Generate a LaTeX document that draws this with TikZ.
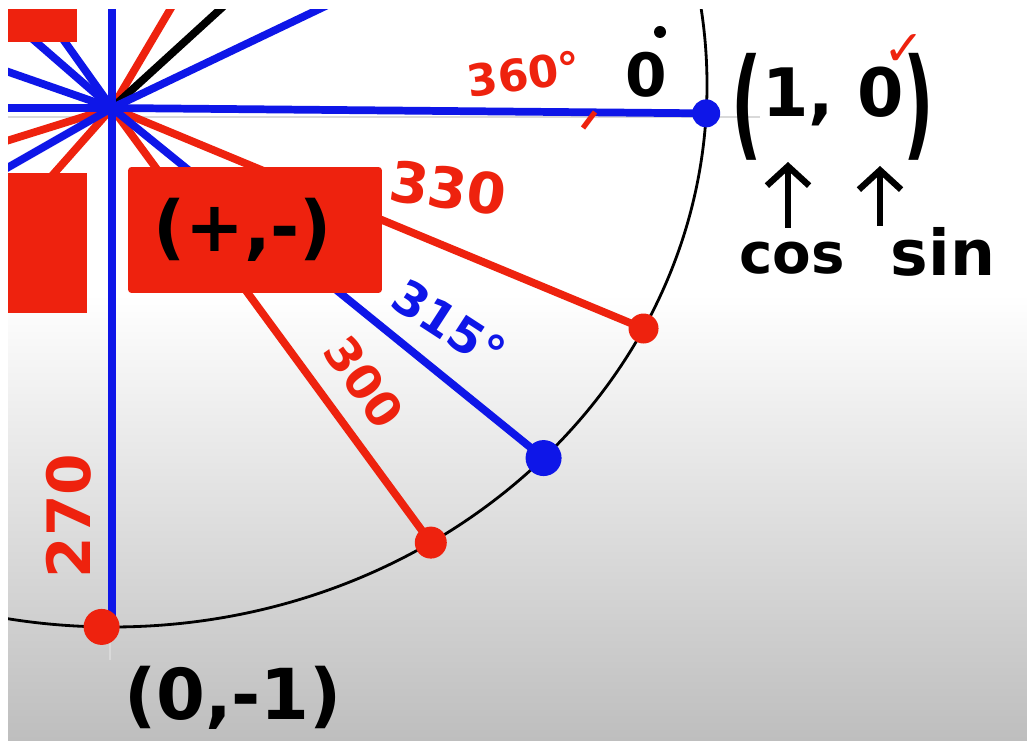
\documentclass[tikz,border=0pt]{standalone}
\usepackage{fontspec}
\setmainfont{DejaVu Sans}
\usetikzlibrary{arrows.meta}
\definecolor{penblue}{RGB}{14,22,232}
\definecolor{penred}{RGB}{238,34,14}
\definecolor{papergray}{RGB}{190,190,190}
\newcommand{\penfont}[1]{\fontsize{#1}{#1}\selectfont\bfseries}
\newcommand{\tallpar}[1]{\raisebox{-0.42em}{\scalebox{1}[1.8]{#1}}}

\begin{document}
\begin{tikzpicture}[x=0.02cm,y=0.02cm,
		spoke/.style={line width=4.4pt},
		axisline/.style={line width=1.6pt, gray!30},
		pen/.style={inner sep=0pt, font=\penfont{#1}},
		uparrow/.style={line width=3.6pt, -{Straight Barb[length=11pt,width=24pt]}},
		quadbox/.style={fill=penred, rounded corners=2pt, minimum width=5.08cm, minimum height=2.52cm}]
		\useasboundingbox (0,0) rectangle (1027,740);
		\fill[white] (0,0) rectangle (1027,740);
		\shade[top color=white, bottom color=papergray] (8,0) rectangle (1027,446);
		
		\begin{scope}
		\clip (8,0) rectangle (1027,730);
		\coordinate (O) at (112,632);
		\coordinate (E) at (112,655);
		\path (E) ++(-3:595 and 542) coordinate (d0);
		\path (E) ++(-26.7:595 and 542) coordinate (d330);
		\path (E) ++(-43.5:595 and 542) coordinate (d315);
		\path (E) ++(-57.6:595 and 542) coordinate (d300);
		\path (E) ++(-91:595 and 542) coordinate (d270);
		
		% faint axes under the pen strokes
		\draw[axisline] (8,623) -- (760,623);
		\draw[axisline] (110,730) -- (110,80);
		
		\draw[line width=1.6pt] (E) ellipse [x radius=595, y radius=542];
		
		% spokes
		\draw[spoke, penred] (O) -- (174,737);
		\draw[spoke, black] (O) -- (226,736);
		\draw[spoke, penred] (O) -- (0,597);
		\draw[spoke, penred] (O) -- (50,562);
		\draw[spoke, penred] (O) -- (d330);
		\draw[spoke, penred] (O) -- (d300);
		\draw[spoke, penblue] (O) -- (332,737);
		\draw[spoke, penblue] (O) -- (28,705);
		\draw[spoke, penblue] (O) -- (60,705);
		\draw[spoke, penblue] (O) -- (0,671);
		\draw[spoke, penblue] (O) -- (0,568);
		\draw[spoke, penblue] (O) -- (0,632);
		\draw[spoke, penblue] (O) -- (112,740);
		\draw[spoke, penblue] (O) -- (O |- d270);
		\draw[spoke, penblue] (O) -- (d0);
		\draw[spoke, penblue] (O) -- (d315);
		
		\fill[penred] (0,698) rectangle (77,740);
		\fill[penred] (0,427) rectangle (87,567);
		\node[quadbox, pen=40] (quad) at (255,510) {(+,-)\kern0.5cm};
		
		\fill[penblue] (d0) circle (14);
		\fill[penred] (d330) circle (15);
		\fill[penblue] (d315) circle (18);
		\fill[penred] (d300) circle (16);
		\fill[penred] (d270) circle (18);
		\end{scope}
		
		% angle labels
		\node[pen=25, penred, rotate=8] (a360) at (524,666) {360°};
		\draw[penred, line width=3pt] (583,612) -- (595,628);
		\node[pen=34] (a0) at (646,665) {0};
		\fill (660,708) circle (6);
		\node[pen=32, penred, rotate=-8] (a330) at (448,552) {330};
		\node[pen=27, penblue, rotate=-33] (a315) at (449,416) {315°};
		\node[pen=27, penred, rotate=-55] (a300) at (364,358) {300};
		\node[pen=34, penred, rotate=90] (a270) at (69,224) {270};
		
		% coordinates of the two points
		\node[pen=38] (one) at (833,633) {\tallpar{(}1, 0\tallpar{)}};
		\node[pen=28, penred] (tick) at (904,690) {✓};
		\node[pen=40] (bottom) at (233,42) {(0,-1)};
		\node[pen=32] (cos) at (792,482) {cos};
		\node[pen=36] (sin) at (943,488) {sin};
		\coordinate (cosfoot) at (788,512);
		\coordinate (coshead) at (788,578);
		\coordinate (sinfoot) at (880,514);
		\coordinate (sinhead) at (880,574);
		\draw[uparrow] (cosfoot) -- (coshead);
		\draw[uparrow] (sinfoot) -- (sinhead);
	\end{tikzpicture}
\end{document}
